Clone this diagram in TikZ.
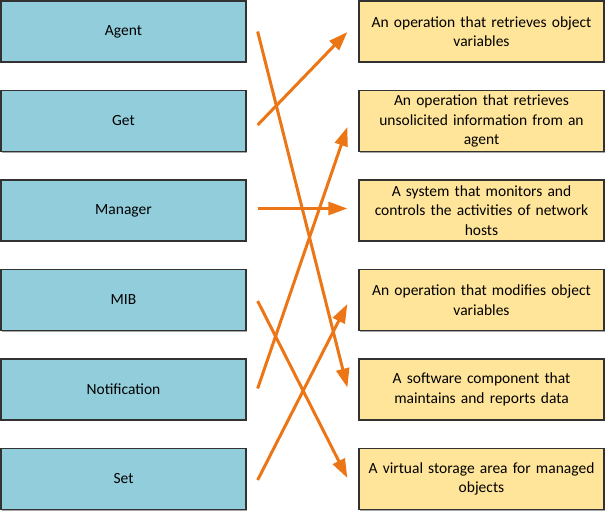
\documentclass[tikz,border=0pt]{standalone}
\usepackage{fontspec}
\setmainfont{Carlito}
\usetikzlibrary{calc,arrows.meta,shadows}
\definecolor{boxblue}{RGB}{146,205,220}
\definecolor{boxyellow}{RGB}{255,229,153}
\definecolor{arrorange}{RGB}{236,118,22}
\definecolor{boxborder}{RGB}{50,50,50}
\tikzset{
  basebox/.style={draw=boxborder, line width=1.3pt, minimum width=245pt, minimum height=61pt,
    inner sep=2pt, align=center, font=\fontsize{15.5}{19.5}\selectfont,
    drop shadow={shadow xshift=0.8pt, shadow yshift=-1.2pt, fill=gray!70, opacity=1}},
  termbox/.style={basebox, fill=boxblue},
  defbox/.style={basebox, fill=boxyellow, text width=238pt},
  link/.style={draw=arrorange, line width=3pt, -{Triangle[length=19pt,width=13pt]}}
}
\begin{document}
\begin{tikzpicture}[x=1pt,y=-1pt]
\useasboundingbox (0,0) rectangle (607,511);
\node[termbox] (agent) at (123.5,31.5) {Agent};
\node[termbox] (get) at (123.5,121) {Get};
\node[termbox] (manager) at (123.5,210.5) {Manager};
\node[termbox] (mib) at (123.5,300) {MIB};
\node[termbox] (notif) at (123.5,389.5) {Notification};
\node[termbox] (set) at (123.5,479) {Set};
\node[defbox] (d1) at (481.5,31.5) {An operation that retrieves object\\variables};
\node[defbox] (d2) at (481.5,121) {An operation that retrieves\\unsolicited information from an\\agent};
\node[defbox] (d3) at (481.5,210.5) {A system that monitors and\\controls the activities of network\\hosts};
\node[defbox] (d4) at (481.5,300) {An operation that modifies object\\variables};
\node[defbox] (d5) at (481.5,389.5) {A software component that\\maintains and reports data};
\node[defbox] (d6) at (481.5,479) {A virtual storage area for managed\\objects};
\draw[link] ($(agent.east)+(11,0)$) -- ($(d5.west)+(-11,-2)$);
\draw[link] ($(get.east)+(11,4)$) -- ($(d1.west)+(-11,0.5)$);
\draw[link] ($(manager.east)+(11,-2)$) -- ($(d3.west)+(-11,-2)$);
\draw[link] ($(mib.east)+(11,1)$) -- ($(d6.west)+(-11,-1)$);
\draw[link] ($(notif.east)+(11,-1)$) -- ($(d2.west)+(-11,6)$);
\draw[link] ($(set.east)+(11,1)$) -- ($(d4.west)+(-11,4)$);
\end{tikzpicture}
\end{document}
